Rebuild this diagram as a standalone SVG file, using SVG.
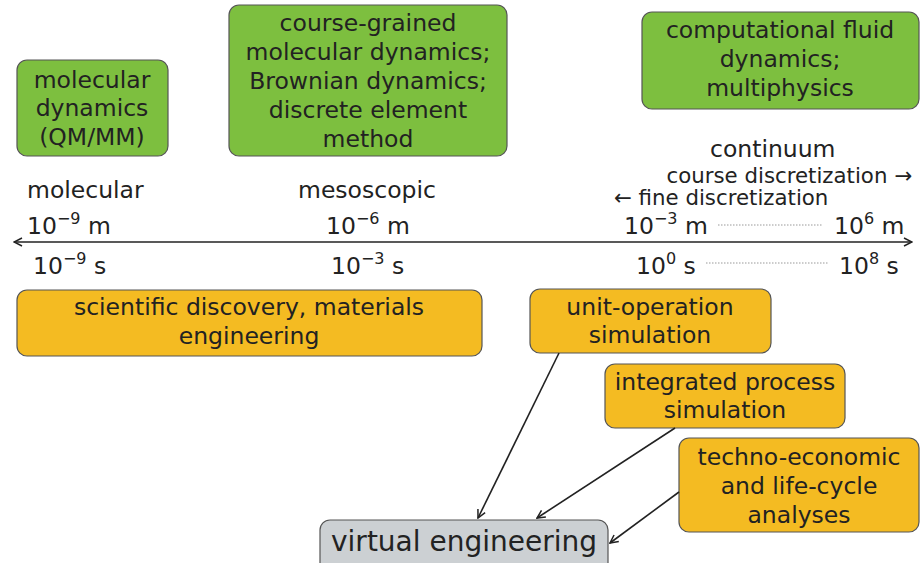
<svg xmlns="http://www.w3.org/2000/svg" width="924" height="563" viewBox="0 0 924 563">
<defs>
<style>
text{font-family:"DejaVu Sans",sans-serif;fill:#222;}
.bt{font-size:23.5px;text-anchor:middle;}
.ax{font-size:23.5px;}
.sm{font-size:21.3px;}
.sup{font-size:16px;}
.g{fill:#7dbf3f;stroke:#555;stroke-width:1.2;}
.o{fill:#f4bb22;stroke:#555;stroke-width:1.2;}
.gr{fill:#ccd0d3;stroke:#555;stroke-width:1.2;}
.con{stroke:#222;stroke-width:1.6;fill:none;}
.dot{stroke:#999;stroke-width:1;stroke-dasharray:1.5 1.5;}
</style>
<marker id="ah" viewBox="0 0 10 10" refX="9" refY="5" markerWidth="10" markerHeight="10" markerUnits="userSpaceOnUse" orient="auto">
<path d="M1,1 L9,5 L1,9" fill="none" stroke="#222" stroke-width="1.5"/>
</marker>
<marker id="ahs" viewBox="0 0 10 10" refX="1" refY="5" markerWidth="10" markerHeight="10" markerUnits="userSpaceOnUse" orient="auto">
<path d="M9,1 L1,5 L9,9" fill="none" stroke="#222" stroke-width="1.5"/>
</marker>
</defs>
<rect width="924" height="563" fill="#fff"/>

<g id="md">
<rect class="g" x="17" y="60" width="151" height="96" rx="10"/>
<text class="bt" x="92" y="88">molecular</text>
<text class="bt" x="92" y="116">dynamics</text>
<text class="bt" x="92" y="145">(QM/MM)</text>
</g>
<g id="cg">
<rect class="g" x="229" y="5" width="278" height="151" rx="10"/>
<text class="bt" x="368" y="31">course-grained</text>
<text class="bt" x="368" y="60">molecular dynamics;</text>
<text class="bt" x="368" y="89">Brownian dynamics;</text>
<text class="bt" x="368" y="118">discrete element</text>
<text class="bt" x="368" y="147">method</text>
</g>
<g id="cfd">
<rect class="g" x="642" y="12" width="277" height="97" rx="10"/>
<text class="bt" x="780" y="38">computational fluid</text>
<text class="bt" x="780" y="67">dynamics;</text>
<text class="bt" x="780" y="96">multiphysics</text>
</g>

<g id="axis">
<text class="ax" x="27" y="198">molecular</text>
<text class="ax" x="27" y="234">10<tspan class="sup" dy="-10">−9</tspan><tspan dy="10"> m</tspan></text>
<text class="ax" x="33" y="274">10<tspan class="sup" dy="-10">−9</tspan><tspan dy="10"> s</tspan></text>
<text class="ax" x="298" y="198">mesoscopic</text>
<text class="ax" x="326" y="234">10<tspan class="sup" dy="-10">−6</tspan><tspan dy="10"> m</tspan></text>
<text class="ax" x="331" y="274">10<tspan class="sup" dy="-10">−3</tspan><tspan dy="10"> s</tspan></text>
<text class="ax" x="710" y="157">continuum</text>
<text class="sm" x="912" y="183" style="text-anchor:end">course discretization →</text>
<text class="sm" x="614" y="205">← fine discretization</text>
<text class="ax" x="624" y="234">10<tspan class="sup" dy="-10">−3</tspan><tspan dy="10"> m</tspan></text>
<text class="ax" x="834" y="234">10<tspan class="sup" dy="-10">6</tspan><tspan dy="10"> m</tspan></text>
<text class="ax" x="636" y="274">10<tspan class="sup" dy="-10">0</tspan><tspan dy="10"> s</tspan></text>
<text class="ax" x="839" y="274">10<tspan class="sup" dy="-10">8</tspan><tspan dy="10"> s</tspan></text>
</g>

<g id="sci">
<rect class="o" x="17" y="290" width="465" height="66" rx="10"/>
<text class="bt" x="249" y="315">scientific discovery, materials</text>
<text class="bt" x="249" y="344">engineering</text>
</g>
<g id="unit">
<rect class="o" x="530" y="289" width="241" height="64" rx="10"/>
<text class="bt" x="650" y="315">unit-operation</text>
<text class="bt" x="650" y="343">simulation</text>
</g>
<g id="integ">
<rect class="o" x="605" y="364" width="240" height="64" rx="10"/>
<text class="bt" x="725" y="390">integrated process</text>
<text class="bt" x="725" y="418">simulation</text>
</g>
<g id="techno">
<rect class="o" x="679" y="438" width="240" height="94" rx="10"/>
<text class="bt" x="799" y="465">techno-economic</text>
<text class="bt" x="799" y="494">and life-cycle</text>
<text class="bt" x="799" y="523">analyses</text>
</g>
<g id="ve">
<rect class="gr" x="320" y="520" width="288" height="60" rx="10"/>
<text class="bt" x="464" y="551" style="font-size:28px">virtual engineering</text>
</g>

<g id="connectors">
<line class="con" x1="14" y1="242" x2="912" y2="242" marker-start="url(#ahs)" marker-end="url(#ah)"/>
<line class="dot" x1="718" y1="225" x2="822" y2="225"/>
<line class="dot" x1="706" y1="263" x2="828" y2="263"/>
<line class="con" x1="559" y1="353" x2="478" y2="518" marker-end="url(#ah)"/>
<line class="con" x1="675" y1="428" x2="537" y2="518" marker-end="url(#ah)"/>
<line class="con" x1="679" y1="492" x2="610" y2="543" marker-end="url(#ah)"/>
</g>
</svg>
